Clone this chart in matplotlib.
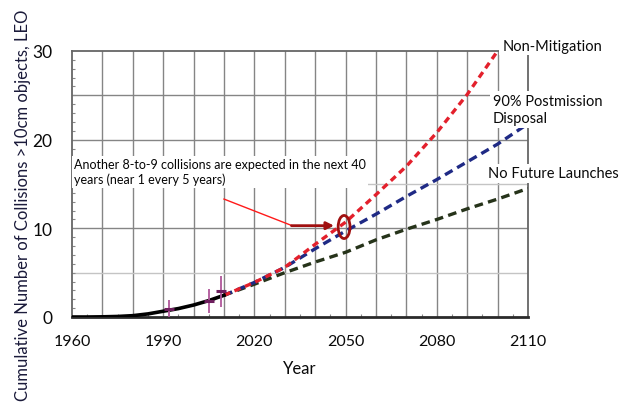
import numpy as np
import matplotlib
matplotlib.use("Agg")
import matplotlib.pyplot as plt
from matplotlib.patches import Ellipse

plt.rcParams['font.family'] = ['Lato', 'DejaVu Sans']

# Historical cumulative collisions
hist_years = [1960, 1965, 1970, 1975, 1980, 1985, 1990, 1995, 2000, 2005, 2010]
hist_vals = [0.0, 0.0, 0.02, 0.06, 0.15, 0.35, 0.65, 0.95, 1.35, 1.85, 2.45]

# Observed collisions with uncertainty
obs_years = [1992, 2005, 2009]
obs_vals = [0.9, 1.85, 2.95]
obs_lo = [0.0, 0.45, 1.1]
obs_hi = [1.95, 3.2, 4.6]

# Projections
proj_years = [2010, 2020, 2030, 2040, 2050, 2060, 2070, 2080, 2090, 2100, 2110]
non_mitigation = [2.45, 3.9, 5.6, 8.2, 10.7, 13.8, 17.0, 20.8, 25.1, 30.0, np.nan]
pmd_90 = [2.45, 3.9, 5.6, 7.7, 9.7, 11.6, 13.6, 15.5, 17.5, 19.5, 21.8]
no_launches = [2.45, 3.7, 5.0, 6.2, 7.3, 8.7, 9.9, 11.0, 12.2, 13.3, 14.5]

series_labels = ["Non-Mitigation", "90% Postmission\nDisposal", "No Future Launches"]
x_tick_years = [1960, 1990, 2020, 2050, 2080, 2110]
y_tick_vals = [0, 10, 20, 30]
note_text = "Another 8-to-9 collisions are expected in the next 40\nyears (near 1 every 5 years)"

fig = plt.figure(figsize=(6.28, 4.10), dpi=100)
ax = fig.add_axes([72/628, 1-318/410, 456/628, 266/410])
ax.set_xlim(1960, 2110)
ax.set_ylim(0, 30)

# grid
for yr in range(1970, 2110, 10):
    ax.axvline(yr, color='#858585', lw=1.0, zorder=0.5)
for lvl, col in [(5, '#c4c4c4'), (10, '#858585'), (15, '#c4c4c4'), (20, '#858585'), (25, '#858585')]:
    ax.axhline(lvl, color=col, lw=1.0, zorder=0.5)

# spines
for side in ['top', 'right', 'left']:
    ax.spines[side].set_color('#666666')
    ax.spines[side].set_linewidth(1.3)
ax.spines['bottom'].set_color('#2a2a2a')
ax.spines['bottom'].set_linewidth(2.0)

ax.set_xticks(x_tick_years)
ax.set_xticklabels([str(y) for y in x_tick_years], fontsize=11.5, color='#0a0a0a')
ax.set_xticks(np.arange(1965, 2110, 5), minor=True)
ax.set_yticks(y_tick_vals)
ax.set_yticklabels([str(v) for v in y_tick_vals], fontsize=12.5, color='#0a0a0a')
ax.set_yticks(np.arange(1, 30, 1), minor=True)
ax.tick_params(axis='x', which='major', length=0, pad=12)
ax.tick_params(axis='y', which='major', length=0, pad=14)
ax.tick_params(which='minor', direction='in', length=2.5, width=0.8, color='#888888')

# curves
ax.plot(proj_years, no_launches, color='#26331a', lw=2.4, ls=(0, (2.6, 1.6)), zorder=3)
ax.plot(proj_years, pmd_90, color='#1f2a85', lw=2.4, ls=(0, (2.6, 1.6)), zorder=3)
ax.plot(proj_years, non_mitigation, color='#e3202c', lw=2.4, ls=(0, (2.0, 1.4)), zorder=3)
ax.plot(hist_years, hist_vals, color='black', lw=2.6, zorder=4)

yerr = [np.array(obs_vals) - np.array(obs_lo), np.array(obs_hi) - np.array(obs_vals)]
ax.errorbar(obs_years, obs_vals, yerr=yerr, fmt='_', color='#6e1f5e', ecolor='#b0569a',
            elinewidth=1.3, capsize=0, markersize=7, mew=2.2, zorder=5)

# annotation
ax.text(1960.7, 17.9, note_text, fontsize=9, va='top', ha='left', color='#050505',
        linespacing=1.25, bbox=dict(facecolor='white', edgecolor='none', pad=1.5), zorder=6)
ax.plot([2010, 2032.4], [13.3, 10.3], color='#ff1a1a', lw=1.0, zorder=6)
ax.annotate('', xy=(2046.2, 10.3), xytext=(2032.2, 10.3),
            arrowprops=dict(arrowstyle='-|>', color='#a01010', lw=2, mutation_scale=11,
                            shrinkA=0, shrinkB=0), zorder=6)
ax.add_patch(Ellipse((2049.5, 10.15), 3.9, 2.6, fill=False, ec='#a01010', lw=2, zorder=6))

# series labels
lab_kw = dict(fontsize=10.5, color='#0a0a0a', ha='left', clip_on=False, zorder=7,
              bbox=dict(facecolor='white', edgecolor='none', pad=2))
ax.text(2101.5, 30.6, series_labels[0], va='center', **lab_kw)
ax.text(2098.5, 23.4, series_labels[1], va='center', linespacing=1.3, **lab_kw)
ax.text(2097.0, 16.2, series_labels[2], va='center', **lab_kw)

ax.set_xlabel('Year', fontsize=12, color='#0a0a0a', labelpad=9)
fig.text(23/628, 1-205/410, 'Cumulative Number of Collisions >10cm objects, LEO',
         rotation=90, fontsize=12, color='#1a1a3a', ha='center', va='center')

fig.savefig('out.png', dpi=100)
